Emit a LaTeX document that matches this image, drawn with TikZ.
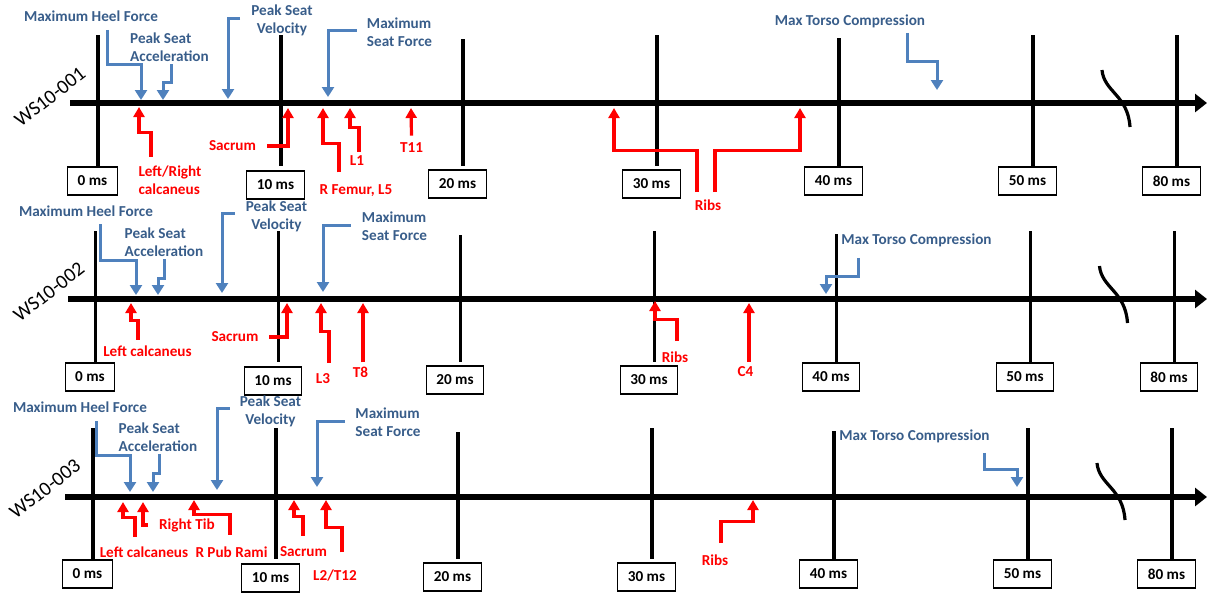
\documentclass[tikz,border=0pt]{standalone}
\usepackage{fontspec}
\setmainfont{Carlito}
\usepackage{xcolor}
\usepackage{tikz}
\usetikzlibrary{arrows.meta}

\definecolor{labelblue}{RGB}{56,93,138}
\definecolor{arrowblue}{RGB}{79,129,189}

\newcommand{\timeaxis}[1]{%
  \foreach \x/\tp/\lab/\dy in {98/35/0/0, 281/35/10/4, 463/39/20/3, 657/35/30/3, 839/38/40/0, 1033/35/50/0, 1177/35/80/0}{
    \draw[tick] (\x,\tp) -- (\x,166);
    \node[msbox] (ms\lab#1) at (\x-5.5,181+\dy) {\lab\ ms};
  }
  \draw[tick] (1102,70) .. controls (1104,92) and (1128,95) .. (1130,127);
}

\begin{document}
\begin{tikzpicture}[x=0.5pt, y=-0.5pt,
tick/.style={line width=1.6pt},
axis/.style={line width=3.2pt, -{Triangle[width=9pt,length=6pt]}},
msbox/.style={draw, line width=0.6pt, fill=white, minimum height=14pt, inner xsep=5pt, inner ysep=0pt, font=\fontsize{7.6}{9}\selectfont\bfseries},
blab/.style={inner sep=1pt, text=labelblue, font=\fontsize{7.6}{9}\selectfont\bfseries},
rlab/.style={inner sep=1pt, text=red, font=\fontsize{7.6}{9}\selectfont\bfseries},
run/.style={font=\fontsize{10}{12}\selectfont, rotate=38},
barrow/.style={draw=arrowblue, line width=1.5pt, -{Triangle[width=6pt,length=5pt]}},
rarrow/.style={draw=red, line width=1.6pt, -{Triangle[width=5.5pt,length=5pt]}}
]
\useasboundingbox (0,0) rectangle (1207,596);

\timeaxis{a}
\begin{scope}[shift={(-2.5,196)}]
\timeaxis{b}
\end{scope}
\begin{scope}[shift={(-5,393)}]
\timeaxis{c}
\end{scope}
\draw[axis] (70,103) -- (1207,103);
\draw[axis] (68,299) -- (1207,299);
\draw[axis] (65,497) -- (1207,497);

\node[run] (runa) at (50,97) {WS10-001};
\node[run] (runb) at (49,292) {WS10-002};
\node[run] (runc) at (45,489) {WS10-003};

\node[blab] (heela) at (91,16) {Maximum Heel Force};
\node[blab, align=left] (acca) at (169.5,47.5) {Peak Seat\\Acceleration};
\node[blab, align=center] (vela) at (282,20) {Peak Seat\\Velocity};
\node[blab, align=left] (seata) at (399.5,32) {Maximum\\Seat Force};
\node[blab] (torsoa) at (850,21) {Max Torso Compression};
\node[rlab, align=left] (calca) at (170,180) {Left/Right\\calcaneus};
\node[rlab] (sacra) at (232.5,146) {Sacrum};
\node[rlab] (femura) at (356,191) {R Femur, L5};
\node[rlab] (l1a) at (357,161) {L1};
\node[rlab] (t11a) at (411.5,148) {T11};
\node[rlab] (ribsa) at (708,205) {Ribs};

\coordinate (at-heela) at (141,100);
\coordinate (at-acca) at (163,100);
\coordinate (at-vela) at (228,99);
\coordinate (at-seata) at (328,97);
\coordinate (at-torsoa) at (937,90);
\coordinate (at-calca) at (139,107);
\coordinate (at-sacra) at (288,108);
\coordinate (at-femura) at (323,108);
\coordinate (at-l1a) at (350,108);
\coordinate (at-t11a) at (411,108);
\coordinate (at-ribsal) at (614,108);
\coordinate (at-ribsar) at (800,108);

\draw[barrow] ([xshift=8pt,yshift=-3pt]heela.south) -- ++(0,35) -| (at-heela);
\draw[barrow] ([xshift=0.75pt]acca.south) -- ++(0,18) -| (at-acca);
\draw[barrow] ([xshift=-4.5pt,yshift=1pt]vela.west) -| (at-vela);
\draw[barrow] ([xshift=-4pt,yshift=1pt]seata.west) -| (at-seata);
\draw[barrow] ([xshift=28.5pt,yshift=-1.5pt]torsoa.south) -- ++(0,29) -| (at-torsoa);
\draw[rarrow] ([xshift=-9.5pt,yshift=3.3pt]calca.north) -- ++(0,-24) -| (at-calca);
\draw[rarrow] ([xshift=4.5pt]sacra.east) -| (at-sacra);
\draw[rarrow] ([xshift=-8.5pt,yshift=5.2pt]femura.north) -- ++(0,-29) -| (at-femura);
\draw[rarrow] ([xshift=1pt,yshift=1pt]l1a.north) -- ++(0,-24) -| (at-l1a);
\draw[rarrow] ([yshift=2.5pt]t11a.north) -- (at-t11a);
\draw[rarrow] ([xshift=-5.5pt,yshift=2.5pt]ribsa.north) -- ++(0,-42) -| (at-ribsal);
\draw[rarrow] ([xshift=3.5pt,yshift=2.5pt]ribsa.north) -- ++(0,-42) -| (at-ribsar);

\node[blab] (heelb) at (86,211) {Maximum Heel Force};
\node[blab, align=left] (accb) at (164,242.5) {Peak Seat\\Acceleration};
\node[blab, align=center] (velb) at (276.5,216) {Peak Seat\\Velocity};
\node[blab, align=left] (seatb) at (394.5,226.5) {Maximum\\Seat Force};
\node[blab] (torsob) at (916.5,240) {Max Torso Compression};
\node[rlab] (calcb) at (147.5,351) {Left calcaneus};
\node[rlab] (sacrb) at (235,337) {Sacrum};
\node[rlab] (l3b) at (323,379) {L3};
\node[rlab] (t8b) at (360.5,372) {T8};
\node[rlab] (ribsb) at (675,357) {Ribs};
\node[rlab] (c4b) at (745.5,372) {C4};

\coordinate (at-heelb) at (136,295);
\coordinate (at-accb) at (158,295);
\coordinate (at-velb) at (222,293);
\coordinate (at-seatb) at (323,292);
\coordinate (at-torsob) at (826,294);
\coordinate (at-calcb) at (131,303);
\coordinate (at-sacrb) at (287,303);
\coordinate (at-l3b) at (321,303);
\coordinate (at-t8b) at (363,303);
\coordinate (at-ribsb) at (655,301);
\coordinate (at-c4b) at (749,303);

\draw[barrow] ([xshift=7pt,yshift=-2.8pt]heelb.south) -- ++(0,36) -| (at-heelb);
\draw[barrow] (accb.south) -- ++(0,19) -| (at-accb);
\draw[barrow] ([xshift=-4.35pt,yshift=1.5pt]velb.west) -| (at-velb);
\draw[barrow] ([xshift=-4.35pt,yshift=0.75pt]seatb.west) -| (at-seatb);
\draw[barrow] ([xshift=-29.25pt,yshift=-4.5pt]torsob.south) -- ++(0,19) -| (at-torsob);
\draw[rarrow] ([xshift=-4.75pt,yshift=1.8pt]calcb.north) -- ++(0,-19) -| (at-calcb);
\draw[rarrow] ([xshift=4.25pt]sacrb.east) -| (at-sacrb);
\draw[rarrow] ([xshift=3pt,yshift=4.5pt]l3b.north) -- ++(0,-31) -| (at-l3b);
\draw[rarrow] ([xshift=1.25pt,yshift=1pt]t8b.north) -- (at-t8b);
\draw[rarrow] ([xshift=1pt,yshift=4pt]ribsb.north) -- ++(0,-22) -| (at-ribsb);
\draw[rarrow] ([xshift=1.75pt,yshift=1.5pt]c4b.north) -- (at-c4b);

\node[blab] (heelc) at (80,407) {Maximum Heel Force};
\node[blab, align=left] (accc) at (158,437.5) {Peak Seat\\Acceleration};
\node[blab, align=center] (velc) at (270.5,411.5) {Peak Seat\\Velocity};
\node[blab, align=left] (seatc) at (388,422) {Maximum\\Seat Force};
\node[blab] (torsoc) at (914.5,436) {Max Torso Compression};
\node[rlab] (calcc) at (144,552) {Left calcaneus};
\node[rlab] (tibc) at (187,525) {Right Tib};
\node[rlab] (rpubc) at (231.5,552) {R Pub Rami};
\node[rlab] (sacrc) at (303.5,552) {Sacrum};
\node[rlab] (l2c) at (335,576) {L2/T12};
\node[rlab] (ribsc) at (715,560) {Ribs};

\coordinate (at-heelc) at (130,492);
\coordinate (at-accc) at (153,492);
\coordinate (at-velc) at (217,490);
\coordinate (at-seatc) at (317,487);
\coordinate (at-torsoc) at (1017,487);
\coordinate (at-calcc) at (123,502);
\coordinate (at-tibc) at (143,502);
\coordinate (at-rpubc) at (194,500);
\coordinate (at-sacrc) at (294,500);
\coordinate (at-l2c) at (326,500);
\coordinate (at-ribsc) at (753,500);

\draw[barrow] ([xshift=8pt,yshift=-3.3pt]heelc.south) -- ++(0,34) -| (at-heelc);
\draw[barrow] ([xshift=0.5pt]accc.south) -- ++(0,19) -| (at-accc);
\draw[barrow] ([xshift=-3.85pt,yshift=1.75pt]velc.west) -| (at-velc);
\draw[barrow] ([xshift=-4.1pt,yshift=0.5pt]seatc.west) -| (at-seatc);
\draw[barrow] ([xshift=34.75pt,yshift=-4pt]torsoc.south) -- ++(0,17) -| (at-torsoc);
\draw[rarrow] ([xshift=-4.5pt,yshift=3.8pt]calcc.north) -- ++(0,-19) -| (at-calcc);
\draw[rarrow] ([xshift=-4.5pt]tibc.west) -| (at-tibc);
\draw[rarrow] ([xshift=-0.75pt,yshift=4.8pt]rpubc.north) -- ++(0,-20) -| (at-rpubc);
\draw[rarrow] ([xshift=-0.25pt,yshift=4.5pt]sacrc.north) -- ++(0,-19) -| (at-sacrc);
\draw[rarrow] ([xshift=3.5pt,yshift=7.75pt]l2c.north) -- ++(0,-25) -| (at-l2c);
\draw[rarrow] ([xshift=3pt,yshift=4.5pt]ribsc.north) -- ++(0,-22) -| (at-ribsc);
\end{tikzpicture}
\end{document}
